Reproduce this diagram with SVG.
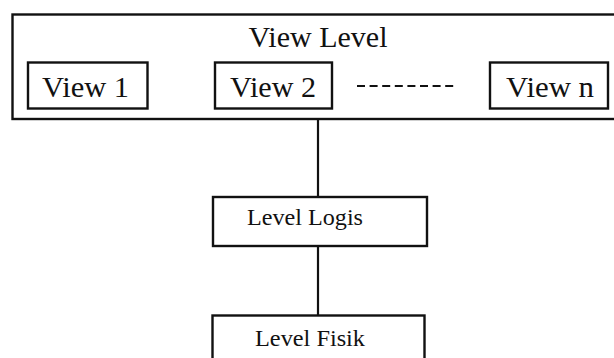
<svg xmlns="http://www.w3.org/2000/svg" width="614" height="358" viewBox="0 0 614 358">
<style>
.box{fill:none;stroke:#111;stroke-width:2.4}
.t{font-family:"Liberation Serif","Times New Roman",serif;fill:#111}
.big{font-size:30px}
.sm{font-size:24px}
.ln{stroke:#111;stroke-width:2.2;fill:none}
</style>
<rect width="614" height="358" fill="#fff"/>
<g id="view-level">
<rect class="box" x="12.5" y="14.5" width="610" height="104.5"/>
<text class="t big" x="318" y="47" text-anchor="middle">View Level</text>
</g>
<g id="view1">
<rect class="box" x="28" y="62.5" width="119.5" height="46"/>
<text class="t big" x="42" y="97" textLength="87" lengthAdjust="spacingAndGlyphs">View 1</text>
</g>
<g id="view2">
<rect class="box" x="215" y="62.5" width="117" height="46"/>
<text class="t big" x="230" y="96.5" textLength="86" lengthAdjust="spacingAndGlyphs">View 2</text>
</g>
<g id="viewn">
<rect class="box" x="490" y="62.5" width="118" height="46"/>
<text class="t big" x="506" y="97" textLength="88" lengthAdjust="spacingAndGlyphs">View n</text>
</g>
<g id="logis">
<rect class="box" x="213" y="197" width="214" height="49"/>
<text class="t sm" x="247" y="225" textLength="116" lengthAdjust="spacingAndGlyphs">Level Logis</text>
</g>
<g id="fisik">
<rect class="box" x="212.5" y="315.5" width="212" height="60"/>
<text class="t sm" x="255" y="346" textLength="110" lengthAdjust="spacingAndGlyphs">Level Fisik</text>
</g>
<g id="connectors">
<line class="ln" x1="357" y1="86" x2="457" y2="86" stroke-dasharray="8,4.6" stroke-width="2.6"/>
<line class="ln" x1="318" y1="119" x2="318" y2="197"/>
<line class="ln" x1="318" y1="246" x2="318" y2="315.5"/>
</g>
</svg>
